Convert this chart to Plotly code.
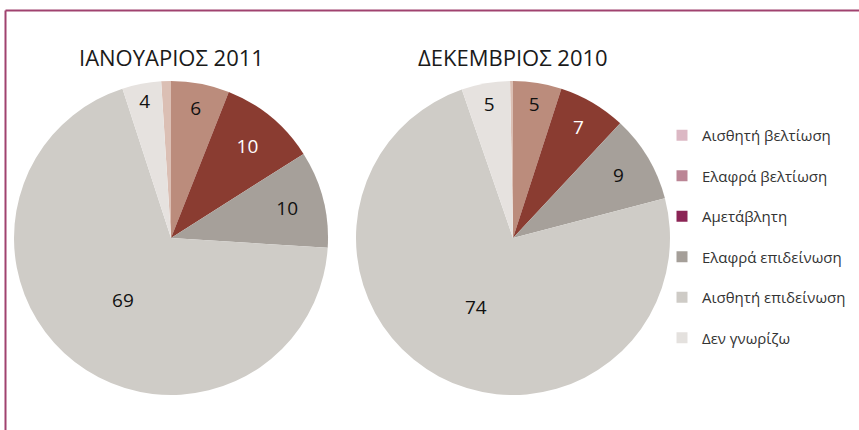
import plotly.graph_objects as go

categories = ["Αισθητή βελτίωση", "Ελαφρά βελτίωση", "Αμετάβλητη",
              "Ελαφρά επιδείνωση", "Αισθητή επιδείνωση", "Δεν γνωρίζω"]
jan_2011 = [1, 6, 10, 10, 69, 4]
dec_2010 = [0.3, 5, 7, 9, 74, 5]
titles = ["ΙΑΝΟΥΑΡΙΟΣ 2011", "ΔΕΚΕΜΒΡΙΟΣ 2010"]

pie_colors = ["#dbbfb4", "#bb8c7c", "#8a3c31", "#a6a09a", "#cfccc7", "#e6e2df"]
legend_colors = ["#dcb8c4", "#bb8595", "#8b2455", "#a59f99", "#cecbc6", "#e4e1de"]
text_colors = ["#111111", "#111111", "#ffffff", "#111111", "#111111", "#111111"]

FONT = "Open Sans"
W, H = 859, 430

fig = go.Figure()

domains = [
    dict(x=[14 / W, 328 / W], y=[(H - 395) / H, (H - 81) / H]),
    dict(x=[356 / W, 670 / W], y=[(H - 395) / H, (H - 81) / H]),
]

for vals, dom in zip([jan_2011, dec_2010], domains):
    labels_txt = [str(round(v)) if v >= 2 else "" for v in vals]
    fig.add_trace(go.Pie(
        labels=categories,
        values=vals,
        text=labels_txt,
        textinfo="text",
        textposition="inside",
        insidetextorientation="horizontal",
        sort=False,
        direction="clockwise",
        rotation=-360 * vals[0] / sum(vals),
        marker=dict(colors=pie_colors, line=dict(width=0)),
        insidetextfont=dict(family=FONT, size=19, color=text_colors),
        domain=dom,
        showlegend=False,
        hoverinfo="label+value",
    ))

for i, (cat, col) in enumerate(zip(categories, legend_colors)):
    fig.add_trace(go.Scatter(
        x=[None], y=[None], mode="markers", name=cat,
        legendgroup=f"g{i}",
        marker=dict(symbol="square", size=11, color=col),
        showlegend=True,
    ))

annotations = []
for t, dom in zip(titles, domains):
    annotations.append(dict(
        text=t, x=(dom["x"][0] + dom["x"][1]) / 2, y=1 - 57 / H,
        xref="paper", yref="paper", showarrow=False,
        xanchor="center", yanchor="middle",
        font=dict(family=FONT, size=22, color="#1a1a1a"),
    ))

fig.update_layout(
    width=W, height=H,
    margin=dict(l=0, r=0, t=0, b=0),
    paper_bgcolor="white", plot_bgcolor="white",
    xaxis=dict(visible=False), yaxis=dict(visible=False),
    annotations=annotations,
    legend=dict(
        x=662 / W, y=1 - 119 / H, xanchor="left", yanchor="top",
        font=dict(family=FONT, size=15, color="#333333"),
        tracegroupgap=18, bgcolor="rgba(0,0,0,0)",
    ),
    shapes=[
        dict(type="line", xref="paper", yref="paper",
             x0=5.5 / W, x1=1.02, y0=1 - 10.5 / H, y1=1 - 10.5 / H,
             line=dict(color="#a0426f", width=2)),
        dict(type="line", xref="paper", yref="paper",
             x0=5.5 / W, x1=5.5 / W, y0=1 - 10.5 / H, y1=-0.02,
             line=dict(color="#a0426f", width=2)),
    ],
)

fig.write_html("out.html", config={"displayModeBar": False},
               post_script="document.body.style.margin='0';")
